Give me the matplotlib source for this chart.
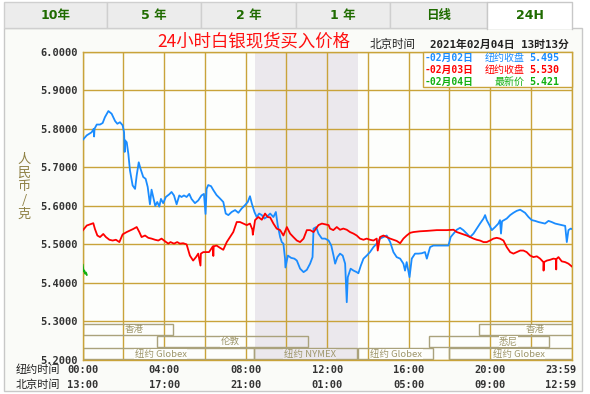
import matplotlib
matplotlib.use("Agg")
import matplotlib.pyplot as plt
import matplotlib.transforms as mtransforms
from matplotlib.patches import Rectangle

# ---------------- data ----------------
blue_hours = [0.00, 0.20, 0.44, 0.54, 0.56, 0.58, 0.69, 0.85, 0.98, 1.09, 1.26, 1.42, 1.59, 1.70, 1.83,
              1.96, 2.03, 2.06, 2.08, 2.16, 2.24, 2.32, 2.45, 2.57, 2.65, 2.75, 2.84, 2.97, 3.09, 3.19,
              3.30, 3.38, 3.46, 3.56, 3.66, 3.76, 3.84, 3.95, 4.08, 4.25, 4.36, 4.48, 4.61, 4.74, 4.85,
              4.97, 5.10, 5.23, 5.34, 5.51, 5.67, 5.83, 5.95, 6.03, 6.08, 6.16, 6.30, 6.41, 6.57, 6.74,
              6.90, 7.02, 7.15, 7.31, 7.48, 7.64, 7.80, 7.97, 8.10, 8.21, 8.30, 8.43, 8.54, 8.66, 8.79,
              8.92, 9.03, 9.20, 9.36, 9.48, 9.57, 9.69, 9.77, 9.85, 9.93, 9.95, 10.07, 10.23, 10.39, 10.51,
              10.67, 10.84, 11.00, 11.16, 11.28, 11.33, 11.46, 11.57, 11.74, 11.90, 12.07, 12.20, 12.31,
              12.39, 12.50, 12.63, 12.76, 12.88, 12.96, 13.01, 13.15, 13.29, 13.45, 13.53, 13.65, 13.78,
              13.94, 14.10, 14.27, 14.43, 14.59, 14.76, 14.92, 15.09, 15.25, 15.41, 15.58, 15.74, 15.82,
              15.90, 16.04, 16.15, 16.31, 16.48, 16.64, 16.80, 16.89, 17.05, 17.21, 17.38, 17.70, 17.95,
              18.06, 18.20, 18.36, 18.52, 18.68, 18.85, 19.01, 19.18, 19.34, 19.50, 19.67, 19.75, 19.83,
              19.96, 20.08, 20.24, 20.40, 20.48, 20.53, 20.58, 20.81, 20.98, 21.14, 21.30, 21.47, 21.71,
              21.88, 22.04, 22.20, 22.37, 22.53, 22.69, 22.86, 23.02, 23.19, 23.35, 23.51, 23.68, 23.76,
              23.84, 23.95, 24.00]
blue_values = [5.771, 5.783, 5.791, 5.800, 5.780, 5.800, 5.811, 5.811, 5.815, 5.830, 5.846, 5.839, 5.820,
               5.813, 5.817, 5.809, 5.791, 5.740, 5.770, 5.765, 5.735, 5.692, 5.653, 5.644, 5.679, 5.713,
               5.696, 5.675, 5.670, 5.649, 5.604, 5.642, 5.623, 5.600, 5.610, 5.598, 5.618, 5.607, 5.623,
               5.630, 5.636, 5.627, 5.604, 5.627, 5.623, 5.627, 5.623, 5.631, 5.618, 5.607, 5.614, 5.627,
               5.631, 5.579, 5.644, 5.654, 5.651, 5.641, 5.628, 5.619, 5.610, 5.580, 5.576, 5.584, 5.589,
               5.582, 5.593, 5.602, 5.610, 5.625, 5.606, 5.584, 5.571, 5.580, 5.576, 5.567, 5.571, 5.580,
               5.571, 5.584, 5.550, 5.519, 5.506, 5.502, 5.463, 5.440, 5.471, 5.465, 5.463, 5.458, 5.437,
               5.428, 5.434, 5.450, 5.467, 5.541, 5.545, 5.528, 5.515, 5.515, 5.510, 5.497, 5.471, 5.450,
               5.467, 5.476, 5.471, 5.450, 5.350, 5.415, 5.437, 5.432, 5.428, 5.425, 5.445, 5.463, 5.471,
               5.480, 5.493, 5.502, 5.515, 5.519, 5.523, 5.506, 5.480, 5.467, 5.463, 5.450, 5.432, 5.454,
               5.415, 5.463, 5.476, 5.476, 5.477, 5.480, 5.463, 5.493, 5.497, 5.497, 5.497, 5.497, 5.519,
               5.528, 5.538, 5.543, 5.537, 5.528, 5.519, 5.528, 5.541, 5.554, 5.567, 5.576, 5.563, 5.550,
               5.537, 5.545, 5.554, 5.563, 5.528, 5.560, 5.567, 5.576, 5.582, 5.587, 5.590, 5.582, 5.571,
               5.563, 5.561, 5.558, 5.556, 5.554, 5.561, 5.558, 5.554, 5.552, 5.550, 5.548, 5.506, 5.537,
               5.541, 5.540]

red_hours = [0.00, 0.20, 0.36, 0.52, 0.60, 0.72, 0.85, 1.01, 1.14, 1.31, 1.47, 1.63, 1.80, 1.96, 2.16,
             2.32, 2.48, 2.65, 2.78, 2.89, 3.06, 3.22, 3.38, 3.55, 3.71, 3.87, 4.04, 4.20, 4.31, 4.48,
             4.64, 4.77, 4.93, 5.10, 5.26, 5.42, 5.56, 5.67, 5.78, 5.80, 5.92, 6.05, 6.20, 6.39, 6.41,
             6.43, 6.57, 6.74, 6.90, 7.07, 7.23, 7.39, 7.56, 7.72, 7.89, 8.05, 8.21, 8.33, 8.35, 8.46,
             8.62, 8.79, 8.95, 9.08, 9.20, 9.36, 9.52, 9.69, 9.85, 10.02, 10.18, 10.34, 10.51, 10.67,
             10.84, 11.00, 11.16, 11.33, 11.57, 11.74, 11.90, 12.07, 12.14, 12.30, 12.47, 12.63, 12.79,
             12.96, 13.12, 13.29, 13.45, 13.61, 13.78, 13.94, 14.10, 14.27, 14.43, 14.48, 14.59, 14.76,
             14.92, 15.09, 15.25, 15.41, 15.58, 15.74, 15.90, 16.07, 16.23, 16.56, 16.89, 17.38, 17.87,
             18.20, 18.36, 18.68, 18.85, 19.01, 19.18, 19.34, 19.50, 19.67, 19.83, 19.99, 20.16, 20.32,
             20.48, 20.65, 20.81, 20.98, 21.14, 21.30, 21.47, 21.63, 21.79, 21.96, 22.12, 22.29, 22.45,
             22.61, 22.62, 22.64, 22.78, 22.94, 23.10, 23.23, 23.24, 23.25, 23.35, 23.51, 23.68, 23.84,
             24.00]
red_values = [5.536, 5.549, 5.552, 5.555, 5.540, 5.523, 5.519, 5.527, 5.519, 5.512, 5.510, 5.512, 5.506,
              5.526, 5.532, 5.536, 5.540, 5.545, 5.532, 5.519, 5.523, 5.517, 5.515, 5.512, 5.510, 5.515,
              5.508, 5.502, 5.506, 5.502, 5.506, 5.502, 5.503, 5.500, 5.471, 5.458, 5.467, 5.476, 5.445,
              5.476, 5.480, 5.480, 5.480, 5.495, 5.470, 5.495, 5.497, 5.491, 5.486, 5.506, 5.519, 5.532,
              5.558, 5.558, 5.554, 5.550, 5.554, 5.538, 5.525, 5.563, 5.571, 5.564, 5.580, 5.571, 5.570,
              5.554, 5.541, 5.537, 5.523, 5.545, 5.528, 5.519, 5.510, 5.506, 5.515, 5.537, 5.537, 5.532,
              5.550, 5.554, 5.552, 5.550, 5.541, 5.537, 5.545, 5.538, 5.541, 5.538, 5.532, 5.528, 5.523,
              5.515, 5.512, 5.515, 5.512, 5.510, 5.515, 5.484, 5.519, 5.523, 5.519, 5.515, 5.512, 5.509,
              5.503, 5.515, 5.523, 5.530, 5.532, 5.534, 5.535, 5.537, 5.537, 5.538, 5.532, 5.526, 5.523,
              5.519, 5.515, 5.512, 5.510, 5.506, 5.506, 5.510, 5.515, 5.517, 5.515, 5.510, 5.493, 5.480,
              5.476, 5.480, 5.484, 5.484, 5.480, 5.471, 5.467, 5.469, 5.463, 5.454, 5.432, 5.454, 5.458,
              5.460, 5.463, 5.462, 5.435, 5.462, 5.467, 5.456, 5.454, 5.450, 5.443]

green_hours = [0.00, 0.04, 0.08, 0.12, 0.16, 0.20]
green_values = [5.447, 5.430, 5.432, 5.424, 5.427, 5.421]

y_ticks = [5.2, 5.3, 5.4, 5.5, 5.6, 5.7, 5.8, 5.9, 6.0]
y_tick_labels = ["5.2000", "5.3000", "5.4000", "5.5000", "5.6000", "5.7000", "5.8000", "5.9000", "6.0000"]
time_hours = [0, 4, 8, 12, 16, 20]
ny_times = ["00:00", "04:00", "08:00", "12:00", "16:00", "20:00"]
bj_times = ["13:00", "17:00", "21:00", "01:00", "05:00", "09:00"]
end_ny, end_bj = "23:59", "12:59"

tabs = ["10年", "5 年", "2 年", "1 年", "日线", "24H"]
title = "24小时白银现货买入价格"
stamp_label = "北京时间"
stamp = "2021年02月04日 13时13分"
legend_dates = ["-02月02日", "-02月03日", "-02月04日"]
legend_kinds = ["纽约收盘", "纽约收盘", "最新价"]
legend_prices = ["5.495", "5.530", "5.421"]

nymex_span = (8.45, 13.5)
# sessions: (name, start hour, end hour, row, label hour)
sess_names = ["香港", "香港", "伦敦", "悉尼", "纽约 Globex", "纽约 NYMEX", "纽约 Globex", "纽约 Globex"]
sess_start = [0.0, 19.47, 3.63, 17.0, 0.0, 8.43, 13.5, 18.0]
sess_end = [4.45, 24.5, 11.05, 22.9, 8.4, 13.47, 17.2, 24.5]
sess_row = [0, 0, 1, 1, 2, 2, 2, 2]
sess_label_at = [2.55, 22.2, 7.24, 20.9, 3.83, 11.14, 15.4, 21.4]

# ---------------- style ----------------
W, H = 590, 394
GRID = "#c9a33a"
BOXC = "#aaa27c"
BOXT = "#9f976c"
BLUE = "#1a8cff"
RED = "#ff0000"
GREEN = "#10b010"
CJK = ["Noto Sans CJK SC", "DejaVu Sans"]
MONO = ["DejaVu Sans Mono", "Noto Sans CJK SC"]

fig = plt.figure(figsize=(W / 100, H / 100), dpi=100)
fig.patch.set_facecolor("white")

# background overlay in pixel coordinates
bg = fig.add_axes([0, 0, 1, 1], zorder=0)
bg.set_xlim(0, W)
bg.set_ylim(H, 0)
bg.axis("off")

# panel
bg.add_patch(Rectangle((4, 28), 578, 363, facecolor="#fafbf8", edgecolor="#c8c8c8", lw=1))

# tabs
tab_edges = [4, 107, 201, 296, 390, 487, 572]
for i, name in enumerate(tabs):
    x0, x1 = tab_edges[i], tab_edges[i + 1]
    active = (i == len(tabs) - 1)
    if active:
        bg.add_patch(Rectangle((x0, 2), x1 - x0, 27, facecolor="white", edgecolor="none"))
        bg.plot([x0, x0, x1, x1], [29, 2, 2, 29], color="#c8c8c8", lw=1)
    else:
        bg.add_patch(Rectangle((x0, 2), x1 - x0, 26, facecolor="#ececec", edgecolor="#cfcfcf", lw=1))
    bg.text((x0 + x1) / 2, 15.5, name, ha="center", va="center", fontsize=9,
            fontweight="bold", color="#1f6b00", family=["DejaVu Sans", "Noto Sans CJK SC"])

# title and time stamp
bg.text(253.5, 41.5, title, ha="center", va="center", fontsize=12.5, color="#ff1010", family=CJK)
bg.text(370, 44.5, stamp_label, ha="left", va="center", fontsize=8.3, color="#222222", family=CJK)
bg.text(569, 44.5, stamp, ha="right", va="center", fontsize=7.8, color="#222222",
        family=MONO, fontweight="bold")

# y label (stacked characters)
ylab_chars = list("人民币/克")
for k, ch in enumerate(ylab_chars):
    bg.text(24, 159 + k * 13.8, ch, ha="center", va="center", fontsize=9.5, color="#8f8145", family=CJK)

# ---------------- main axes ----------------
ax = fig.add_axes([82.7 / W, 1 - 360 / H, (571.7 - 82.7) / W, (360 - 51.7) / H], zorder=1)
ax.set_facecolor("#fdfefc")
ax.set_xlim(0, 24)
ax.set_ylim(5.2, 6.0)
ax.set_xticks(list(range(0, 25, 2)))
ax.set_yticks(y_ticks)
ax.set_yticklabels(y_tick_labels)
ax.tick_params(axis="x", length=0, labelbottom=False)
ax.tick_params(axis="y", length=0, pad=3.4, labelsize=7.5, labelcolor="#333333")
for lab in ax.get_yticklabels():
    lab.set_family("DejaVu Sans Mono")
    lab.set_fontweight("bold")
ax.grid(True, color=GRID, lw=1.0, zorder=1)
ax.set_axisbelow(True)
for sp in ax.spines.values():
    sp.set_color(GRID)
    sp.set_linewidth(1.0)

ax.axvspan(*nymex_span, color="#ebe8ed", zorder=0.5, lw=0)

rows = [(5.2649, 5.2927), (5.2330, 5.2623), (5.2019, 5.2304)]
for name, s, e, r, lx in zip(sess_names, sess_start, sess_end, sess_row, sess_label_at):
    y0, y1 = rows[r]
    ax.add_patch(Rectangle((s, y0), e - s, y1 - y0, facecolor="none", edgecolor=BOXC, lw=1.0, zorder=2))
    inside = nymex_span[0] <= lx <= nymex_span[1]
    ax.text(lx, (y0 + y1) / 2, name, ha="center", va="center", fontsize=6.8, color=BOXT, family=CJK,
            zorder=3, bbox=dict(facecolor="#ebe8ed" if inside else "#fdfefc", edgecolor="none", pad=0.2))

ax.plot(blue_hours, blue_values, color=BLUE, lw=1.3, zorder=4)
ax.plot(red_hours, red_values, color=RED, lw=1.3, zorder=4)
ax.plot(green_hours, green_values, color=GREEN, lw=1.3, zorder=4)

# legend box (pixel coordinates)
bg2 = fig.add_axes([0, 0, 1, 1], zorder=2)
bg2.set_xlim(0, W)
bg2.set_ylim(H, 0)
bg2.axis("off")
bg2.patch.set_alpha(0)
bg2.add_patch(Rectangle((423.3, 51.7), 148.4, 35.6, facecolor="white", edgecolor=GRID, lw=1))
leg_colors = [BLUE, RED, GREEN]
leg_y = [57.8, 69.6, 81.6]
for d, k, p, c, yy in zip(legend_dates, legend_kinds, legend_prices, leg_colors, leg_y):
    bg2.text(425, yy, d, ha="left", va="center", fontsize=7.0, color=c, family=MONO, fontweight="bold")
    bg2.text(559, yy, p, ha="right", va="center", fontsize=7.2, color=c, family=MONO,
             fontweight="bold")
    bg2.text(525, yy, k, ha="right", va="center", fontsize=7.2, color=c, family=CJK)

# time axis labels
trans = mtransforms.blended_transform_factory(ax.transData, bg.transData)
for h, t1, t2 in zip(time_hours, ny_times, bj_times):
    bg.text(h, 369.7, t1, transform=trans, ha="center", va="center", fontsize=7.5,
            family="DejaVu Sans Mono", fontweight="bold", color="#333333")
    bg.text(h, 385.0, t2, transform=trans, ha="center", va="center", fontsize=7.5,
            family="DejaVu Sans Mono", fontweight="bold", color="#333333")
off = mtransforms.offset_copy(trans, fig=fig, x=5, y=0, units="dots")
bg.text(24, 369.7, end_ny, transform=off, ha="right", va="center", fontsize=7.5,
        family="DejaVu Sans Mono", fontweight="bold", color="#333333")
bg.text(24, 385.0, end_bj, transform=off, ha="right", va="center", fontsize=7.5,
        family="DejaVu Sans Mono", fontweight="bold", color="#333333")
bg.text(16, 369.7, "纽约时间", ha="left", va="center", fontsize=8, color="#222222", family=CJK)
bg.text(16, 385.0, "北京时间", ha="left", va="center", fontsize=8, color="#222222", family=CJK)

fig.savefig("out.png", dpi=100)
